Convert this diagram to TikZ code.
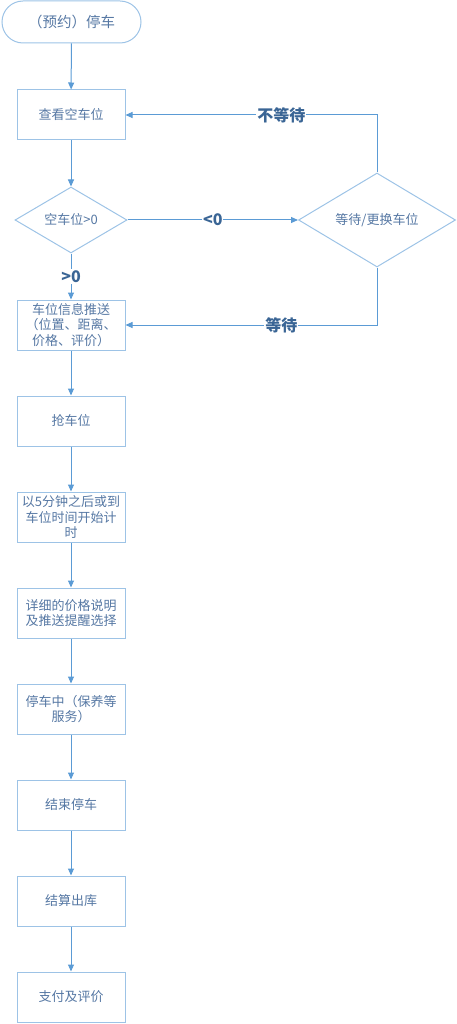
\documentclass[tikz,border=0pt]{standalone}
\usepackage{fontspec}
\setmainfont{Noto Sans CJK SC}
\usetikzlibrary{shapes.geometric,arrows.meta}
\definecolor{linec}{HTML}{5B9BD5}
\definecolor{borderc}{HTML}{9DC3E6}
\definecolor{textc}{HTML}{5577A3}
\definecolor{lblc}{HTML}{3A6595}
\tikzset{
  box/.style={draw=borderc, line width=1pt, rectangle, minimum width=108pt, minimum height=50pt,
    inner sep=1pt, align=center, text=textc, font=\fontsize{13}{15.5}\selectfont},
  term/.style={draw=borderc, line width=1pt, rectangle, rounded corners=21pt, minimum width=139pt,
    minimum height=42pt, text=textc, font=\fontsize{14.5}{16}\selectfont},
  dia/.style={draw=borderc, line width=1pt, diamond, aspect=1.7, inner sep=0pt, text=textc,
    font=\fontsize{13}{15}\selectfont},
  arr/.style={draw=linec, line width=1pt, -{Triangle[length=7pt,width=6pt]}},
  lbl/.style={fill=white, text=lblc, inner sep=1pt, font=\fontsize{16}{18}\selectfont\bfseries}
}
\begin{document}
\begin{tikzpicture}[x=1pt,y=-1pt]
\useasboundingbox (0,0) rectangle (457,1024);
\node[term] (start) at (71.5,22) {（预约）停车};
\node[box] (b1) at (71,115) {查看空车位};
\node[dia, minimum width=112pt, minimum height=66pt] (d1) at (71,220) {空车位>0};
\node[dia, minimum width=157pt, minimum height=94pt] (d2) at (377,220) {等待/更换车位};
\node[box] (b2) at (71,325) {车位信息推送\\（位置、距离、\\价格、评价）};
\node[box] (b3) at (71,421) {抢车位};
\node[box] (b4) at (71,517) {以5分钟之后或到\\车位时间开始计\\时};
\node[box] (b5) at (71,613) {详细的价格说明\\及推送提醒选择};
\node[box] (b6) at (71,709) {停车中（保养等\\服务）};
\node[box] (b7) at (71,805) {结束停车};
\node[box] (b8) at (71,901) {结算出库};
\node[box] (b9) at (71,997) {支付及评价};
\draw[arr] (start) -- (b1);
\draw[arr] (b1) -- (d1);
\draw[arr] (d1) -- node[lbl]{>0} (b2);
\draw[arr] (d1) -- node[lbl]{<0} (d2);
\draw[arr] (d2.north) |- node[lbl, pos=0.69]{不等待} (b1.east);
\draw[arr] (d2.south) |- node[lbl, pos=0.69]{等待} (b2.east);
\draw[arr] (b2) -- (b3);
\draw[arr] (b3) -- (b4);
\draw[arr] (b4) -- (b5);
\draw[arr] (b5) -- (b6);
\draw[arr] (b6) -- (b7);
\draw[arr] (b7) -- (b8);
\draw[arr] (b8) -- (b9);
\end{tikzpicture}
\end{document}
